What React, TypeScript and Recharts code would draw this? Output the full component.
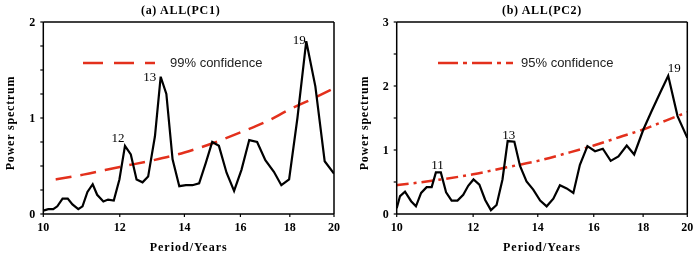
import React from 'react';
import { LineChart, Line, XAxis, YAxis, ReferenceDot } from 'recharts';

// ---------- data ----------
const xTicks = [10, 12, 14, 16, 18, 20];

const pc1Period = [10, 10.12, 10.24, 10.34, 10.47, 10.6, 10.72, 10.87, 10.98, 11.11, 11.25, 11.37, 11.54, 11.67, 11.83, 11.99, 12.15, 12.32, 12.49, 12.67, 12.84, 13.05, 13.23, 13.41, 13.61, 13.83, 14.05, 14.27, 14.5, 14.73, 14.96, 15.2, 15.48, 15.76, 16.04, 16.34, 16.65, 16.98, 17.33, 17.64, 17.97, 18.33, 18.72, 19.13, 19.56, 20];
const pc1Power = [0.035, 0.05, 0.05, 0.08, 0.16, 0.16, 0.1, 0.05, 0.08, 0.23, 0.31, 0.2, 0.13, 0.15, 0.14, 0.36, 0.71, 0.62, 0.36, 0.33, 0.39, 0.81, 1.43, 1.25, 0.57, 0.29, 0.3, 0.3, 0.32, 0.53, 0.75, 0.71, 0.43, 0.24, 0.46, 0.77, 0.75, 0.56, 0.44, 0.3, 0.36, 1.0, 1.8, 1.33, 0.55, 0.42];
const conf99Period = [10.3, 11, 12, 13, 14, 15, 16, 17, 18, 19, 20];
const conf99Power = [0.36, 0.41, 0.49, 0.56, 0.64, 0.74, 0.85, 0.96, 1.09, 1.2, 1.31];
const pc1Peaks = [
  { period: 12.15, power: 0.71, label: '12' },
  { period: 13.23, power: 1.43, label: '13' },
  { period: 18.72, power: 1.8, label: '19' },
];
const pc1YTicks = [0, 0.25, 0.5, 0.75, 1, 1.25, 1.5, 1.75, 2];

const pc2Period = [10, 10.08, 10.2, 10.35, 10.47, 10.6, 10.74, 10.87, 10.98, 11.11, 11.25, 11.4, 11.56, 11.72, 11.86, 12.01, 12.18, 12.35, 12.52, 12.69, 12.87, 13.03, 13.24, 13.42, 13.63, 13.85, 14.08, 14.3, 14.53, 14.76, 15.0, 15.24, 15.48, 15.76, 16.05, 16.35, 16.66, 16.97, 17.31, 17.62, 18.01, 18.37, 18.74, 19.11, 19.54, 20];
const pc2Power = [0.09, 0.28, 0.35, 0.2, 0.12, 0.33, 0.42, 0.42, 0.65, 0.65, 0.34, 0.21, 0.21, 0.3, 0.44, 0.54, 0.46, 0.22, 0.06, 0.14, 0.54, 1.14, 1.13, 0.75, 0.51, 0.38, 0.21, 0.12, 0.24, 0.45, 0.4, 0.33, 0.77, 1.06, 0.98, 1.02, 0.83, 0.9, 1.07, 0.93, 1.32, 1.61, 1.89, 2.16, 1.53, 1.19];
const conf95Period = [10, 11, 12, 13, 14, 15, 16, 17, 18, 19, 20];
const conf95Power = [0.45, 0.53, 0.62, 0.73, 0.83, 0.95, 1.07, 1.2, 1.32, 1.46, 1.59];
const pc2Peaks = [
  { period: 11.05, power: 0.65, label: '11' },
  { period: 13.13, power: 1.14, label: '13' },
  { period: 19.11, power: 2.16, label: '19' },
];
const pc2YTicks = [0, 0.5, 1, 1.5, 2, 2.5, 3];

// ---------- styling ----------
const SERIF = '"Liberation Serif", "DejaVu Serif", serif';
const SANS = '"Liberation Sans", Arial, sans-serif';
const RED = '#e3301c';

const pc1LabelOffsets = [[-7, -8], [-11, 0], [-7, -2]];
const pc2LabelOffsets = [[-1, -8], [-2, -7], [6, -8]];

type PanelCfg = {
  left: number;
  title: string;
  titleDx: number;
  period: number[];
  power: number[];
  confPeriod: number[];
  confPower: number[];
  peaks: { period: number; power: number; label: string }[];
  offsets: number[][];
  yTicks: number[];
  yMax: number;
  margin: { top: number; right: number; bottom: number; left: number };
  dash: string;
  legendDash: string;
  legendText: string;
  legend: { left: number; top: number; lineWidth: number; gap: number };
};

const Panel = ({ cfg }: { cfg: PanelCfg }) => {
  const spec = cfg.period.map((p, i) => ({ period: p, power: cfg.power[i] }));
  const conf = cfg.confPeriod.map((p, i) => ({ period: p, power: cfg.confPower[i] }));
  const axisLine = { stroke: '#000', strokeWidth: 1.5 };
  const tickLine = { stroke: '#000', strokeWidth: 1.2 };
  const tickStyle = { fill: '#000', fontSize: 12, fontWeight: 'bold', fontFamily: SERIF };
  return (
    <div style={{ position: 'absolute', left: cfg.left, top: 0, width: 350, height: 254, willChange: 'transform' }}>
      <LineChart width={350} height={254} margin={cfg.margin}>
        <XAxis
          xAxisId="b"
          dataKey="period"
          type="number"
          scale="log"
          domain={[10, 20]}
          ticks={xTicks}
          interval={0}
          allowDataOverflow
          height={1}
          tickSize={3}
          tickMargin={5}
          axisLine={axisLine}
          tickLine={tickLine}
          tick={tickStyle}
          label={(props: any) => {
            const vb = props.viewBox || {};
            return (
              <text x={vb.x + vb.width / 2} y={vb.y + 37} textAnchor="middle" fill="#000"
                fontFamily={SERIF} fontWeight="bold" fontSize={12} letterSpacing={1}>
                Period/Years
              </text>
            );
          }}
        />
        <XAxis
          xAxisId="t"
          orientation="top"
          type="number"
          scale="log"
          domain={[10, 20]}
          ticks={xTicks}
          interval={0}
          allowDataOverflow
          height={1}
          tickSize={3}
          tick={false}
          axisLine={axisLine}
          tickLine={tickLine}
          label={(props: any) => {
            const vb = props.viewBox || {};
            return (
              <text x={vb.x + vb.width / 2 + cfg.titleDx} y={vb.y - 7} textAnchor="middle" fill="#000"
                fontFamily={SERIF} fontWeight="bold" fontSize={12} letterSpacing={0.7}>
                {cfg.title}
              </text>
            );
          }}
        />
        <YAxis
          yAxisId="l"
          type="number"
          domain={[0, cfg.yMax]}
          ticks={cfg.yTicks}
          interval={0}
          allowDataOverflow
          width={1}
          tickSize={3}
          tickMargin={5}
          axisLine={axisLine}
          tickLine={tickLine}
          tick={tickStyle}
          tickFormatter={(v: number) => (Number.isInteger(v) ? String(v) : '')}
          label={(props: any) => {
            const vb = props.viewBox || {};
            const cx = vb.x - 32;
            const cy = vb.y + vb.height / 2 + 5;
            return (
              <text x={cx} y={cy} transform={`rotate(-90 ${cx} ${cy})`} textAnchor="middle" dominantBaseline="central"
                fill="#000" fontFamily={SERIF} fontWeight="bold" fontSize={12} letterSpacing={0.8}>
                Power spectrum
              </text>
            );
          }}
        />
        <YAxis
          yAxisId="r"
          orientation="right"
          type="number"
          domain={[0, cfg.yMax]}
          ticks={cfg.yTicks}
          interval={0}
          allowDataOverflow
          width={1}
          tickSize={3}
          tick={false}
          axisLine={axisLine}
          tickLine={tickLine}
        />
        <Line
          xAxisId="b"
          yAxisId="l"
          data={conf}
          dataKey="power"
          type="monotone"
          stroke={RED}
          strokeWidth={2.5}
          strokeDasharray={cfg.dash}
          dot={false}
          activeDot={false}
          isAnimationActive={false}
        />
        <Line
          xAxisId="b"
          yAxisId="l"
          data={spec}
          dataKey="power"
          type="linear"
          stroke="#000"
          strokeWidth={2.2}
          strokeLinejoin="miter"
          dot={false}
          activeDot={false}
          isAnimationActive={false}
        />
        {cfg.peaks.map((p, i) => (
          <ReferenceDot
            key={p.label + i}
            xAxisId="b"
            yAxisId="l"
            x={p.period}
            y={p.power}
            r={1}
            fill="none"
            stroke="none"
            label={(props: any) => {
              const vb = props.viewBox || {};
              const cx = vb.x + (vb.width || 0) / 2 + cfg.offsets[i][0];
              const cy = vb.y + (vb.height || 0) / 2 + cfg.offsets[i][1];
              return (
                <text x={cx} y={cy} textAnchor="middle" dominantBaseline="central"
                  style={{ fill: '#000', stroke: 'none' }}
                  fontFamily={SERIF} fontSize={13}>
                  {p.label}
                </text>
              );
            }}
          />
        ))}
      </LineChart>
      <div style={{ position: 'absolute', left: cfg.legend.left, top: cfg.legend.top, display: 'flex', alignItems: 'center', height: 16 }}>
        <svg width={cfg.legend.lineWidth} height={6} style={{ display: 'block' }}>
          <line x1={0} y1={3} x2={cfg.legend.lineWidth} y2={3} stroke={RED} strokeWidth={2.5} strokeDasharray={cfg.legendDash} />
        </svg>
        <span style={{ marginLeft: cfg.legend.gap, fontFamily: SANS, fontSize: 13, color: '#222', whiteSpace: 'nowrap', lineHeight: '16px' }}>
          {cfg.legendText}
        </span>
      </div>
    </div>
  );
};

const panelA: PanelCfg = {
  left: 0,
  title: '(a) ALL(PC1)',
  titleDx: -8,
  period: pc1Period,
  power: pc1Power,
  confPeriod: conf99Period,
  confPower: conf99Power,
  peaks: pc1Peaks,
  offsets: pc1LabelOffsets,
  yTicks: pc1YTicks,
  yMax: 2,
  margin: { top: 21, right: 15, bottom: 39, left: 42.3 },
  dash: '16 9',
  legendDash: '20 11',
  legendText: '99% confidence',
  legend: { left: 83, top: 55, lineWidth: 72, gap: 15 },
};

const panelB: PanelCfg = {
  left: 350,
  title: '(b) ALL(PC2)',
  titleDx: 0,
  period: pc2Period,
  power: pc2Power,
  confPeriod: conf95Period,
  confPower: conf95Power,
  peaks: pc2Peaks,
  offsets: pc2LabelOffsets,
  yTicks: pc2YTicks,
  yMax: 3,
  margin: { top: 21, right: 11.7, bottom: 39, left: 45.7 },
  dash: '12 5 3 5',
  legendDash: '20 5 4 5',
  legendText: '95% confidence',
  legend: { left: 88, top: 55, lineWidth: 75, gap: 8 },
};

export default function App() {
  return (
    <div style={{ position: 'absolute', left: 0, top: 0, width: 700, height: 254, background: '#fff', overflow: 'hidden' }}>
      <Panel cfg={panelA} />
      <Panel cfg={panelB} />
    </div>
  );
}
